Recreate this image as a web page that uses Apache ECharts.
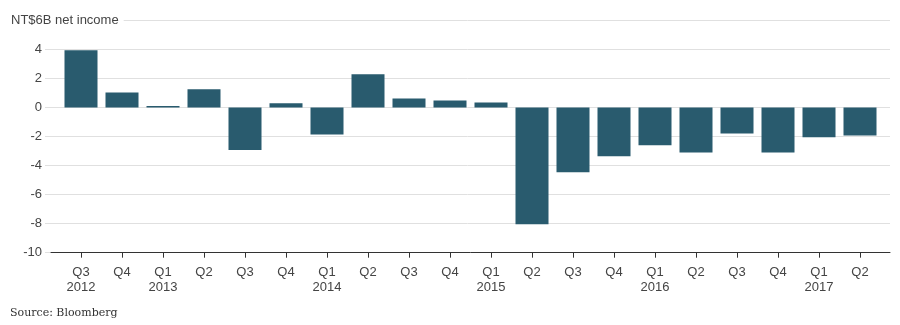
<!DOCTYPE html>
<html>
<head>
<meta charset="utf-8">
<script src="https://cdn.jsdelivr.net/npm/echarts@6/dist/echarts.min.js"></script>
<style>
html,body{margin:0;padding:0;background:#fff;}
#chart{width:900px;height:325px;}
</style>
</head>
<body>
<div id="chart"></div>
<script>
const categories = ['Q3\n2012','Q4','Q1\n2013','Q2','Q3','Q4','Q1\n2014','Q2','Q3','Q4','Q1\n2015','Q2','Q3','Q4','Q1\n2016','Q2','Q3','Q4','Q1\n2017','Q2'];
const netIncome = [3.93, 1.03, 0.09, 1.24, -2.94, 0.28, -1.86, 2.28, 0.62, 0.48, 0.34, -8.05, -4.46, -3.36, -2.6, -3.1, -1.79, -3.1, -2.05, -1.93];
const yMin = -10, yMax = 6, yStep = 2;
const titleText = 'NT$6B net income';
const sourceText = 'Source: Bloomberg';

const chart = echarts.init(document.getElementById('chart'), null, {renderer: 'canvas'});
const font = 'Liberation Sans, Arial, sans-serif';
const gTop = 20.2, gBottom = 72.3;
chart.setOption({
  animation: false,
  backgroundColor: '#fff',
  title: [{
    text: titleText, left: 11, top: 12,
    backgroundColor: '#fff', padding: [0, 5, 0, 0],
    textStyle: {fontFamily: font, fontSize: 13, fontWeight: 'normal', color: '#444', lineHeight: 16}
  }, {
    text: sourceText, left: 10, top: 306,
    padding: 0,
    textStyle: {fontFamily: 'DejaVu Serif, Liberation Serif, Georgia, serif', fontSize: 11, fontWeight: 'normal', color: '#333', lineHeight: 14}
  }],
  grid: [
    {left: 45, right: 10, top: gTop, bottom: gBottom},
    {left: 60.5, right: 19.5, top: gTop, bottom: gBottom},
    {left: 51, right: 10, top: gTop, bottom: gBottom}
  ],
  xAxis: [
    {gridIndex: 0, type: 'value', min: 0, max: 1, show: false},
    {gridIndex: 1, type: 'category', data: categories, boundaryGap: true, position: 'bottom',
     axisLine: {show: false, onZero: false},
     axisTick: {show: true, alignWithLabel: true, length: 5, lineStyle: {color: '#333', width: 1}},
     axisLabel: {fontFamily: font, fontSize: 13, color: '#444', lineHeight: 15, margin: 12, interval: 0}},
    {gridIndex: 2, type: 'value', min: 0, max: 1, position: 'bottom',
     axisLine: {show: true, onZero: false, lineStyle: {color: '#333', width: 1}},
     axisTick: {show: false}, axisLabel: {show: false}, splitLine: {show: false}}
  ],
  yAxis: [
    {gridIndex: 0, type: 'value', min: yMin, max: yMax, interval: yStep,
     axisLine: {show: false}, axisTick: {show: false},
     axisLabel: {fontFamily: font, fontSize: 13, color: '#444', margin: 3,
       formatter: v => v === yMax ? '' : String(v)},
     splitLine: {show: true, lineStyle: {color: '#e0e0e0', width: 1}}},
    {gridIndex: 1, type: 'value', min: yMin, max: yMax, interval: yStep, show: false},
    {gridIndex: 2, type: 'value', min: yMin, max: yMax, interval: yStep, show: false}
  ],
  series: [{
    type: 'bar', xAxisIndex: 1, yAxisIndex: 1,
    data: netIncome, barWidth: 33,
    itemStyle: {color: '#295b6e'}
  }]
});
</script>
</body>
</html>
